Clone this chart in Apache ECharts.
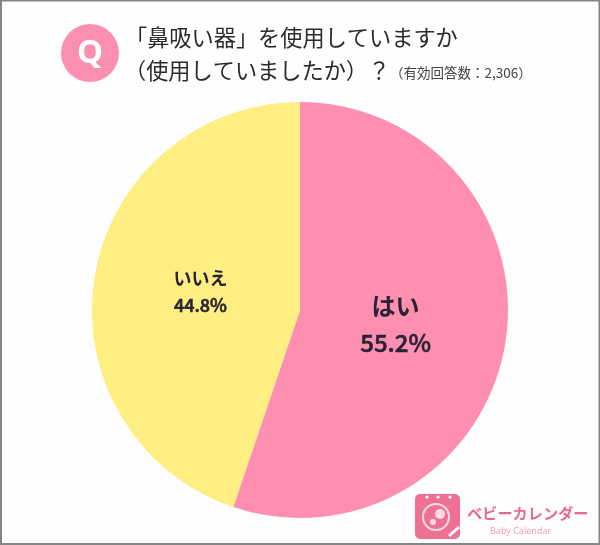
<!DOCTYPE html>
<html><head><meta charset="utf-8">
<style>html,body{margin:0;padding:0;background:#fff}#c{width:600px;height:545px}</style>
<script src="https://cdn.jsdelivr.net/npm/echarts@6/dist/echarts.min.js"></script>
</head><body><div id="c"></div>
<script>
const categories = ['はい', 'いいえ'];
const values = [55.2, 44.8];
const colors = ['#FE8FB1', '#FFEE82'];
const titleLine1 = '「鼻吸い器」を使用していますか';
const titleLine2 = '（使用していましたか）？';
const noteText = '（有効回答数：2,306）';
const logoText = 'ベビーカレンダー';
const logoSub = 'Baby Calendar';
const jp = '"Noto Sans CJK JP","Noto Sans",sans-serif';
const labelStyle = [
  {name: 24, pct: 24, lh: 37, offset: [-10, -3]},
  {name: 18, pct: 18, lh: 27, offset: [6, -1]}
];

const chart = echarts.init(document.getElementById('c'), null, {renderer: 'canvas'});
chart.setOption({
  animation: false,
  backgroundColor: '#fefefe',
  series: [{
    type: 'pie',
    center: [300, 310],
    radius: [0, 208],
    startAngle: 90,
    clockwise: true,
    silent: true,
    data: categories.map((name, i) => ({
      name, value: values[i],
      itemStyle: {color: colors[i]},
      label: {
        position: 'inside',
        offset: labelStyle[i].offset,
        formatter: '{a|' + name + '}\n{b|' + values[i].toFixed(1) + '%}',
        rich: {
          a: {fontFamily: jp, fontWeight: 700, fontSize: labelStyle[i].name, lineHeight: labelStyle[i].lh, color: '#2a2333'},
          b: {fontFamily: jp, fontWeight: 500, fontSize: labelStyle[i].pct, lineHeight: labelStyle[i].lh, color: '#2a2333', textBorderColor: '#2a2333', textBorderWidth: 0.6}
        }
      }
    })),
    labelLine: {show: false}
  }],
  graphic: [
    {type: 'rect', shape: {x: 0, y: 0, width: 600, height: 1.5}, style: {fill: '#858585'}},
    {type: 'rect', shape: {x: 0, y: 543, width: 600, height: 2}, style: {fill: '#858585'}},
    {type: 'rect', shape: {x: 0, y: 0, width: 2, height: 545}, style: {fill: '#858585'}},
    {type: 'rect', shape: {x: 598.5, y: 0, width: 1.5, height: 545}, style: {fill: '#858585'}},
    {type: 'circle', shape: {cx: 90, cy: 53, r: 29}, style: {fill: '#FB8FB0'}},
    {type: 'text', x: 90, y: 54, style: {text: 'Q', fontFamily: '"Noto Sans",sans-serif', fontWeight: 700, fontSize: 33, fill: '#fff', align: 'center', verticalAlign: 'middle'}},
    {type: 'text', x: 125, y: 38, style: {text: titleLine1, fontFamily: jp, fontSize: 22.2, fill: '#2b2b2b', align: 'left', verticalAlign: 'middle'}},
    {type: 'text', x: 124, y: 70.5, style: {text: titleLine2, fontFamily: jp, fontSize: 22.2, fill: '#2b2b2b', align: 'left', verticalAlign: 'middle'}},
    {type: 'text', x: 390, y: 73, style: {text: noteText, fontFamily: jp, fontSize: 13.5, fill: '#444', align: 'left', verticalAlign: 'middle'}},
    {type: 'rect', shape: {x: 415, y: 494, width: 45, height: 45, r: 5}, style: {fill: '#EE7194'}},
    {type: 'circle', shape: {cx: 427, cy: 497, r: 1.6}, style: {fill: '#fff'}},
    {type: 'circle', shape: {cx: 438, cy: 497, r: 1.6}, style: {fill: '#fff'}},
    {type: 'circle', shape: {cx: 450, cy: 497, r: 1.6}, style: {fill: '#fff'}},
    {type: 'circle', shape: {cx: 436, cy: 517, r: 13}, style: {fill: 'none', stroke: '#fbdbe4', lineWidth: 2}},
    {type: 'circle', shape: {cx: 440, cy: 514, r: 5}, style: {fill: '#fbdbe4'}},
    {type: 'circle', shape: {cx: 433, cy: 522, r: 3}, style: {fill: '#fbdbe4'}},
    {type: 'line', shape: {x1: 449, y1: 536, x2: 459, y2: 527}, style: {stroke: '#fff', lineWidth: 3}},
    {type: 'text', x: 467, y: 513, style: {text: logoText, fontFamily: jp, fontWeight: 700, fontSize: 15.2, fill: '#E9688C', align: 'left', verticalAlign: 'middle'}},
    {type: 'text', x: 490, y: 531, style: {text: logoSub, fontFamily: '"Noto Sans",sans-serif', fontSize: 9, fill: '#EE9DB4', align: 'left', verticalAlign: 'middle', letterSpacing: 2.2}}
  ]
});
</script></body></html>
